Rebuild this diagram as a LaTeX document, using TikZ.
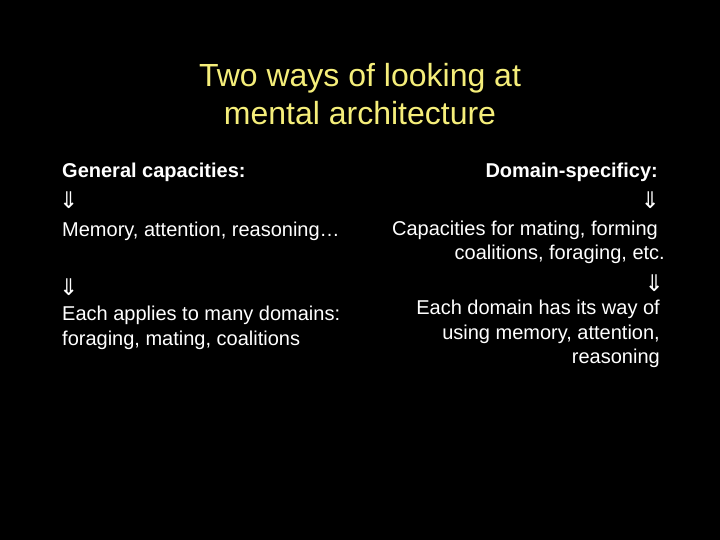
\documentclass[tikz,border=0pt]{standalone}
\usepackage{fontspec}
\setmainfont{Liberation Sans}
\newfontfamily\symf{DejaVu Sans}
\definecolor{titley}{HTML}{F5EE7A}
\begin{document}
\begin{tikzpicture}[x=1pt,y=-1pt,
  body/.style={text=white,font=\fontsize{20}{25}\selectfont,inner sep=0pt},
  lft/.style={body,anchor=west},
  rgt/.style={body,anchor=east},
  arr/.style={text=white,font=\symf\fontsize{23}{26}\selectfont,inner sep=0pt}]
\fill[black] (0,0) rectangle (720,540);
\useasboundingbox (0,0) rectangle (720,540);
\node[text=titley,font=\fontsize{32}{38}\selectfont,align=center,inner sep=0pt] (title) at (360,94) {Two ways of looking at\\mental architecture};
\node[lft,font=\bfseries\fontsize{20}{25}\selectfont] (l1) at (62,172) {General capacities:};
\node[arr,anchor=west] (la1) at (59,200) {⇓};
\node[lft] (l2) at (62,231) {Memory, attention, reasoning…};
\node[arr,anchor=west] (la2) at (59,287) {⇓};
\node[lft,align=left] (l3) at (62,328) {Each applies to many domains:\\foraging, mating, coalitions};
\node[rgt,font=\bfseries\fontsize{20}{25}\selectfont] (r1) at (658,172) {Domain-specificy:};
\node[arr,anchor=east] (ra1) at (660,200) {⇓};
\node[rgt] (r2) at (658,230) {Capacities for mating, forming};
\node[rgt] (r3) at (665,254) {coalitions, foraging, etc.};
\node[arr,anchor=east] (ra2) at (664,283) {⇓};
\node[rgt,align=right,font=\fontsize{20}{24.5}\selectfont] (r4) at (660,334) {Each domain has its way of\\using memory, attention,\\reasoning};
\end{tikzpicture}
\end{document}
